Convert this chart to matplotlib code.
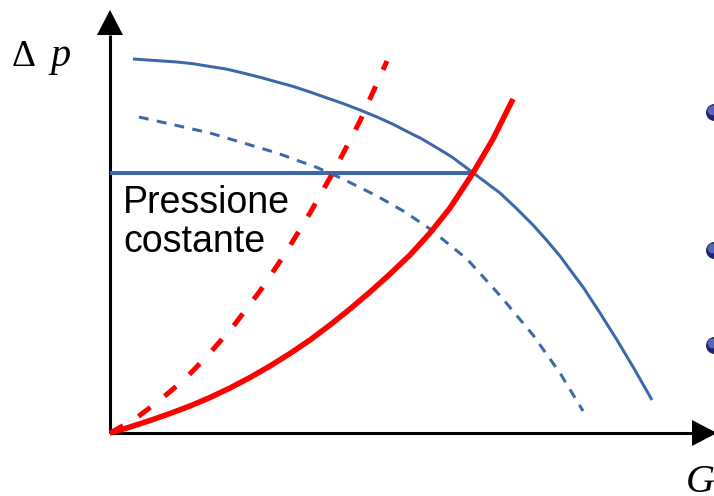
import numpy as np
import matplotlib
matplotlib.use("Agg")
import matplotlib.pyplot as plt

# flow rate G vs pressure head, chart units measured from the axis origin
pump_g = [23, 45, 67, 83, 100, 116, 133, 150, 167, 183, 200, 216, 233, 250, 267, 283,
          300, 311, 323, 342, 362, 376, 390, 406, 423, 436, 450, 461, 473, 490, 507, 524, 542]
pump_dp = [374, 372.5, 371, 369.3, 366.5, 364, 360, 355.7, 351, 346.6, 341, 335.4, 329.5,
           323, 316, 308.8, 300, 294.6, 287.5, 276, 261, 250.5, 240, 225, 208, 193.5, 177,
           162, 146, 120, 93, 64.5, 33]

pump_low_g = [29, 100, 167, 207, 233, 267, 295, 320, 357, 390, 423, 450, 473]
pump_low_dp = [316, 300, 280, 265.5, 254, 237, 221, 204, 174, 137.5, 98, 60, 22]

circuit_g = [0, 20, 40, 60, 80, 100, 120, 140, 160, 180, 200, 220, 240, 260, 280,
             300, 320, 340, 363, 383, 403]
circuit_dp = [0, 6, 12.5, 19.5, 27, 35.5, 45, 55.5, 67, 79.5, 93, 108, 124, 141, 159,
              178, 200, 225, 260, 294, 334]

circuit2_g = [0, 25, 50, 75, 100, 125, 150, 175, 200, 225, 250, 277]
circuit2_dp = [0, 14, 33, 54, 80, 109, 142, 179, 220, 264, 312, 372]

const_dp = 260
const_g_end = 363

bullet_y = [321, 183, 88]

BLUE = "#3a68a8"
RED = "#ff0000"

fig = plt.figure(figsize=(7.14, 4.96), dpi=100)
ax = fig.add_axes([0, 0, 1, 1])
ax.set_xlim(-110, 604)
ax.set_ylim(-63, 433)
ax.axis("off")

# axes with arrow heads
x_end, y_end = 607, 423
ax.plot([0, x_end - 25], [0, 0], color="black", lw=2.2, solid_capstyle="butt")
ax.plot([0, 0], [0, y_end - 25], color="black", lw=2.2, solid_capstyle="butt")
ax.fill([x_end - 25, x_end, x_end - 25], [-13, 0, 13], color="black", lw=0)
ax.fill([-13, 0, 13], [y_end - 25, y_end, y_end - 25], color="black", lw=0)

# curves
ax.plot(pump_g, pump_dp, color=BLUE, lw=2.15, solid_capstyle="butt", solid_joinstyle="round")
l, = ax.plot(pump_low_g, pump_low_dp, color=BLUE, lw=2.15)
l.set_dashes([3.3, 2.8])
ax.plot([0, const_g_end], [const_dp, const_dp], color=BLUE, lw=2.9, solid_capstyle="butt")
ax.plot(circuit_g, circuit_dp, color=RED, lw=4.0, solid_capstyle="butt", solid_joinstyle="round")
l2, = ax.plot(circuit2_g, circuit2_dp, color=RED, lw=3.6)
l2.set_dashes([3.0, 3.6])

# labels
ax.text(13, 220, "Pressione", fontsize=27, family="Liberation Sans", va="baseline")
ax.text(13, 181, "costante", fontsize=27, family="Liberation Sans", va="baseline")
ax.text(-98, 367, "\u0394", fontsize=27, family="Liberation Serif", va="baseline")
ax.text(-60, 367, "p", fontsize=29, family="Liberation Serif", style="italic", va="baseline")
ax.text(576, -59, "G", fontsize=29, family="Liberation Serif", style="italic", va="baseline")

# cut-off bullets on the right edge
bx = np.full(len(bullet_y), 604)
ax.scatter(bx, bullet_y, s=125, color="#1e2270", zorder=5, clip_on=False)
ax.scatter(bx - 2, np.array(bullet_y) + 2, s=35, color="#5b64b8", zorder=6, clip_on=False)

fig.savefig("out.png", dpi=100)
